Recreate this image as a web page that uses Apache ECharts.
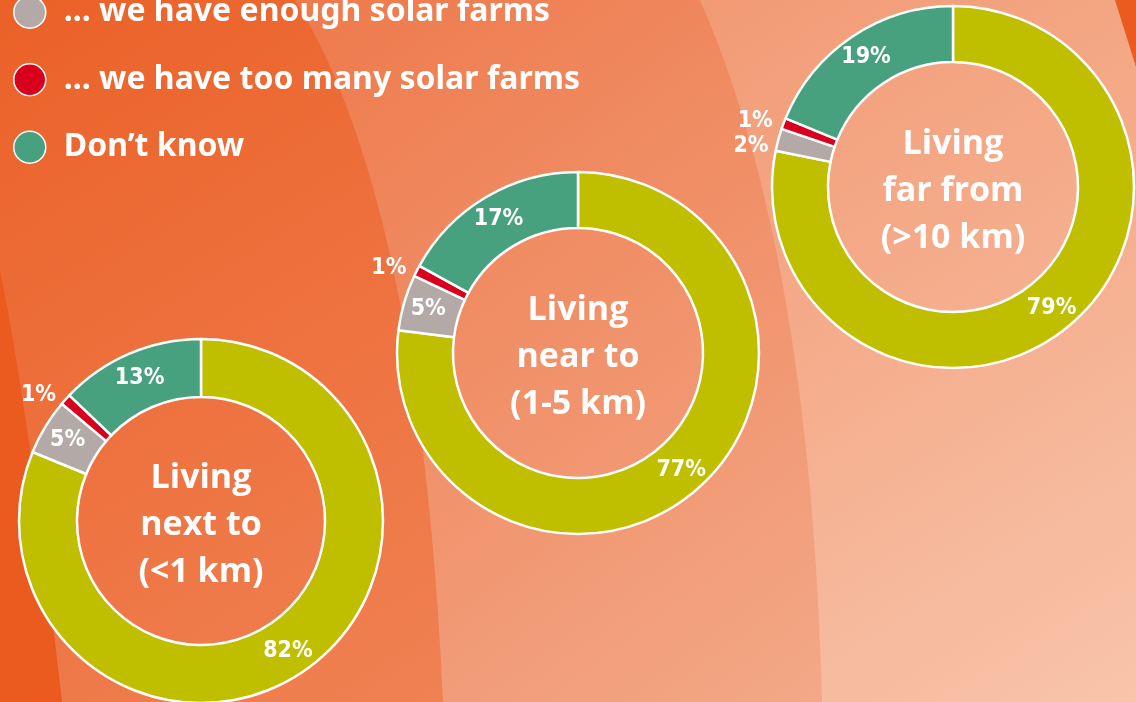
<!DOCTYPE html>
<html><head><meta charset="utf-8">
<script src="https://cdn.jsdelivr.net/npm/echarts@6/dist/echarts.min.js"></script>
<style>html,body{margin:0;padding:0;overflow:hidden;}#c{width:1136px;height:702px;}</style>
</head><body><div id="c"></div>
<script>
// ---- data ----
const categories = ['... we need more solar farms', '... we have enough solar farms', '... we have too many solar farms', 'Don\u2019t know'];
const groups = ['Living\nnext to\n(<1 km)', 'Living\nnear to\n(1-5 km)', 'Living\nfar from\n(>10 km)'];
const nextTo = [82, 5, 1, 13];
const nearTo = [77, 5, 1, 17];
const farFrom = [79, 2, 1, 19];
const seriesValues = [nextTo, nearTo, farFrom];

// ---- styles / layout ----
const colors = ['#BFBF00', '#B3AAA8', '#D9001E', '#47A17F'];
const layout = [
  { c: [201, 521], r: [124, 182] },
  { c: [578, 353], r: [125, 181] },
  { c: [953, 187], r: [125, 181] }
];
const labelFont = '"Liberation Sans Narrow", "Arial Narrow", "Noto Sans Condensed", "DejaVu Sans Condensed", "Roboto Condensed", sans-serif';

function grad(x1, y1, x2, y2, c1, c2) {
  return new echarts.graphic.LinearGradient(x1, y1, x2, y2, [{ offset: 0, color: c1 }, { offset: 1, color: c2 }], true);
}
// background band shape: straight polygon with a quadratic curved edge
function qcurve(p0, p1, p2, n) {
  const pts = [];
  for (let k = 0; k <= n; k++) {
    const t = k / n, a = (1 - t) * (1 - t), b = 2 * (1 - t) * t, c = t * t;
    pts.push([a * p0[0] + b * p1[0] + c * p2[0], a * p0[1] + b * p1[1] + c * p2[1]]);
  }
  return pts;
}
function band(pre, curve, post, fill, z) {
  return { type: 'polygon', z: z, silent: true, shape: { points: pre.concat(curve, post) }, style: { fill: fill } };
}

const bg = [
  { type: 'rect', z: -10, silent: true, shape: { x: 0, y: 0, width: 1136, height: 702 },
    style: { fill: grad(700, 0, 1136, 702, '#F29A74', '#F8C4AA') } },
  band([[0, 0]], qcurve([700, 0], [810, 250], [822, 702], 40), [[0, 702]], grad(300, 0, 820, 702, '#EE7A4C', '#F3A887'), -9),
  band([[0, 0]], qcurve([295, 0], [420, 200], [443, 702], 40), [[0, 702]], grad(0, 0, 440, 702, '#EB6128', '#F08153'), -8),
  band([], qcurve([0, 270], [30, 420], [62, 702], 30), [[0, 702]], '#EB5A1F', -7),
  { type: 'polygon', z: -7, silent: true, shape: { points: [[1115, 0], [1136, 0], [1136, 67]] }, style: { fill: '#EB5A1F' } }
];

const centerTexts = groups.map((g, i) => ({
  type: 'text', z: 10, silent: true, x: layout[i].c[0], y: layout[i].c[1] + 4,
  style: { text: g, fill: '#fff', fontSize: 34, fontWeight: 'bold', fontFamily: '"Open Sans", sans-serif',
    align: 'center', verticalAlign: 'middle', textAlign: 'center', textVerticalAlign: 'middle', lineHeight: 47 }
}));

const chart = echarts.init(document.getElementById('c'), null, { renderer: 'canvas' });
chart.setOption({
  animation: false,
  backgroundColor: 'transparent',
  legend: {
    orient: 'vertical', left: 8, top: -77, itemWidth: 32, itemHeight: 32, itemGap: 34,
    icon: 'circle', selectedMode: false,
    itemStyle: { borderColor: '#fff', borderWidth: 1.5 },
    textStyle: { color: '#fff', fontSize: 32, fontWeight: 'bold', fontFamily: '"Noto Sans", sans-serif', padding: [0, 0, 0, 13] },
    data: categories
  },
  graphic: bg.concat(centerTexts),
  series: seriesValues.map((vals, i) => ({
    type: 'pie', name: groups[i], center: layout[i].c, radius: layout[i].r,
    startAngle: 90, clockwise: true, avoidLabelOverlap: true, silent: true,
    itemStyle: { borderColor: '#fff', borderWidth: 2.5 },
    label: { show: true, position: 'inside', formatter: '{c}%', color: '#fff',
      fontFamily: labelFont, fontWeight: 'bold', fontSize: 23 },
    labelLine: { show: false, length: 6, length2: 0 },
    data: vals.map((v, j) => {
      const d = { name: categories[j], value: v, itemStyle: { color: colors[j] } };
      if (v <= 2) d.label = { position: 'outside' };
      return d;
    })
  }))
});
</script>
</body></html>
